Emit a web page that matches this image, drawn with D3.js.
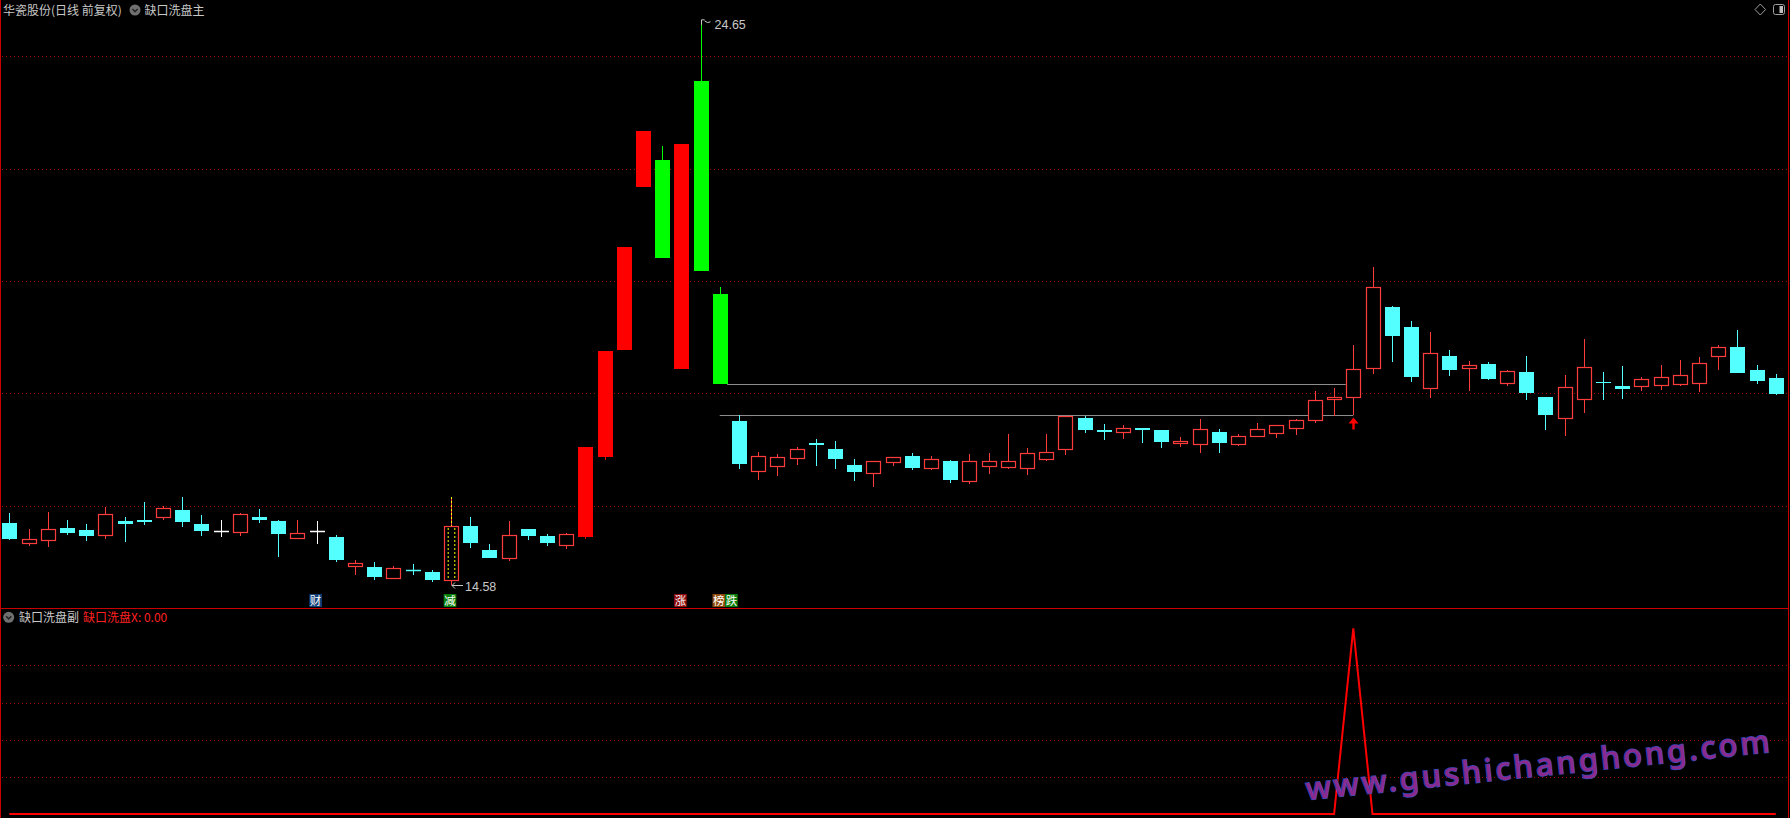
<!DOCTYPE html>
<html><head><meta charset="utf-8">
<script src="https://cdn.jsdelivr.net/npm/d3@7"></script>
<style>html,body{margin:0;padding:0;background:#000;overflow:hidden}svg{display:block}</style>
</head><body>
<svg id="c" width="1790" height="818"></svg>
<script>
// ---------- data ----------
const opens  = [15.69,15.34,15.39,15.60,15.56,15.48,15.72,15.74,15.80,15.92,15.67,15.54,15.52,15.80,15.72,15.43,15.54,15.44,14.93,14.90,14.71,14.86,14.82,14.67,15.64,15.21,15.07,15.58,15.46,15.30,
15.44,16.86,18.77,21.67,22.15,18.43,23.56,19.77,17.50,16.62,16.70,16.85,17.11,17.01,16.72,16.58,16.77,16.88,16.67,16.79,16.44,16.70,16.69,16.67,16.83,17.01,17.56,17.34,17.31,17.38,
17.34,17.11,17.10,17.31,17.10,17.24,17.30,17.38,17.52,17.89,17.94,18.44,19.53,19.18,18.10,18.66,18.44,18.52,18.19,18.38,17.93,17.56,17.89,18.20,18.12,18.13,18.15,18.17,18.19,18.67,
18.82,18.41,18.27];
const highs  = [15.87,15.58,15.88,15.74,15.67,15.97,15.80,16.06,16.00,16.15,15.83,15.74,15.87,15.94,15.74,15.74,15.72,15.47,15.03,14.99,14.92,14.96,14.85,16.15,15.80,15.31,15.72,15.58,15.49,15.51,
17.04,18.75,20.60,22.67,22.40,22.44,24.65,19.89,17.61,16.95,16.92,17.04,17.18,17.15,16.83,16.79,16.86,16.93,16.88,16.81,16.92,16.93,17.27,17.02,17.27,17.59,17.59,17.45,17.43,17.38,
17.34,17.22,17.54,17.36,17.27,17.47,17.43,17.54,18.04,18.09,18.86,20.25,19.55,19.29,19.09,18.77,18.57,18.56,18.41,18.66,17.93,18.32,18.97,18.38,18.48,18.29,18.50,18.59,18.64,18.85,
19.13,18.50,18.34];
const lows   = [15.39,15.28,15.26,15.47,15.37,15.40,15.35,15.65,15.74,15.62,15.46,15.44,15.46,15.69,15.08,15.43,15.31,14.99,14.76,14.67,14.71,14.76,14.64,14.58,15.24,15.07,15.01,15.39,15.28,15.23,
15.40,16.81,18.77,21.67,20.40,18.43,20.18,18.17,16.65,16.45,16.53,16.72,16.70,16.65,16.44,16.33,16.70,16.63,16.63,16.40,16.38,16.56,16.65,16.54,16.79,16.90,17.29,17.17,17.18,17.11,
17.02,17.04,16.93,16.93,17.06,17.22,17.20,17.26,17.47,17.60,17.62,18.35,18.56,18.20,17.92,18.31,18.04,18.23,18.13,17.87,17.35,17.23,17.65,17.88,17.90,18.04,18.06,18.13,18.03,18.42,
18.36,18.17,17.97];
const closes = [15.40,15.40,15.59,15.51,15.46,15.85,15.67,15.71,15.96,15.71,15.55,15.54,15.85,15.74,15.50,15.51,15.54,15.03,14.98,14.73,14.89,14.85,14.67,15.64,15.34,15.07,15.48,15.46,15.33,15.49,
17.04,18.75,20.60,22.67,20.40,22.44,20.18,18.17,16.74,16.89,16.86,17.00,17.08,16.83,16.60,16.79,16.86,16.67,16.83,16.45,16.79,16.79,16.79,16.93,16.95,17.59,17.34,17.31,17.38,17.34,
17.13,17.15,17.36,17.11,17.24,17.36,17.43,17.52,17.87,17.94,18.43,19.89,19.01,18.29,18.71,18.41,18.51,18.25,18.39,18.00,17.62,18.11,18.47,18.19,18.08,18.25,18.28,18.32,18.53,18.82,
18.36,18.22,17.99];
// sub-chart series 缺口洗盘X
const signal = [0,0,0,0,0,0,0,0,0,0,0,0,0,0,0,0,0,0,0,0,0,0,0,0,0,0,0,0,0,0,
0,0,0,0,0,0,0,0,0,0,0,0,0,0,0,0,0,0,0,0,0,0,0,0,0,0,0,0,0,0,
0,0,0,0,0,0,0,0,0,0,1,0,0,0,0,0,0,0,0,0,0,0,0,0,0,0,0,0,0,0,
0,0,0];
const priceTicks  = [16, 18, 20, 22, 24];
const signalTicks = [0.2, 0.4, 0.6, 0.8];
const limitBars   = [30, 31, 32, 33, 34, 35, 36, 37];   // bars painted solid by the indicator
const specialBar  = 23;                                  // bar marked with dotted yellow
const gapStart = 37, gapEnd = 70;                        // gap kept open until the signal bar
const eventBars  = [16, 23, 35, 37, 37];
const eventTexts = ["财", "减", "涨", "榜", "跌"];
const eventFills = ["#113f78", "#0b7f0b", "#8e0c0c", "#8e4a0c", "#0b7f0b"];
const titleMain = "华瓷股份(日线 前复权)";
const mainIndicator = "缺口洗盘主";
const subIndicator = "缺口洗盘副";
const subSeriesName = "缺口洗盘X";
const watermark = "www.gushichanghong.com";

// ---------- drawing ----------
const svg = d3.select("#c");
svg.append("rect").attr("width", 1790).attr("height", 818).attr("fill", "#000");
const n = closes.length;
const x  = d3.scaleLinear().domain([0, n - 1]).range([9.3, 1775.7]);
const y  = d3.scaleLinear().domain([16, 24]).range([505.5, 56.3]);
const y2 = d3.scaleLinear().domain([0, 1]).range([814, 628.3]);
const UP = "#ff3c3c", DOWN = "#54ffff", FLAT = "#ffffff";
const GRID = "#a00000", BORDER = "#c80000";

// grids via axes
const gMainGrid = svg.append("g").attr("transform", "translate(2,0)")
  .call(d3.axisRight(y).tickValues(priceTicks).tickSize(1785).tickFormat(""));
const gSubGrid = svg.append("g").attr("transform", "translate(2,0)")
  .call(d3.axisRight(y2).tickValues(signalTicks).tickSize(1785).tickFormat(""));
[gMainGrid, gSubGrid].forEach(g => {
  g.select(".domain").remove();
  g.selectAll(".tick").attr("transform", d => null);
  g.selectAll(".tick line")
    .attr("y1", function(){ return 0; });
});
gMainGrid.selectAll(".tick line").attr("transform", d => `translate(0,${Math.round(y(d)) + 0.5})`);
gSubGrid.selectAll(".tick line").attr("transform", d => `translate(0,${Math.round(y2(d)) + 0.5})`);
svg.selectAll(".tick line").attr("stroke", GRID).attr("stroke-dasharray", "1,3").attr("stroke-width", 1);

// borders
svg.append("line").attr("x1", 0.5).attr("x2", 0.5).attr("y1", 0).attr("y2", 818).attr("stroke", BORDER);
svg.append("line").attr("x1", 1788.5).attr("x2", 1788.5).attr("y1", 0).attr("y2", 818).attr("stroke", BORDER);
svg.append("line").attr("x1", 0).attr("x2", 1789).attr("y1", 608.5).attr("y2", 608.5).attr("stroke", BORDER);

// gap lines
const gapTopY = Math.round(y(lows[gapStart])) + 0.5;
const gapBotY = Math.round(y(highs[gapStart + 1])) + 0.5;
svg.append("line").attr("x1", x(gapStart) + 7.5).attr("x2", x(gapEnd) - 7.5)
  .attr("y1", gapTopY).attr("y2", gapTopY).attr("stroke", "#8c8c8c").attr("stroke-width", 1.2);
svg.append("line").attr("x1", x(gapStart)).attr("x2", x(gapEnd))
  .attr("y1", gapBotY).attr("y2", gapBotY).attr("stroke", "#8c8c8c").attr("stroke-width", 1.2);

// candles
const gC = svg.append("g");
d3.range(n).forEach(i => {
  const o = opens[i], h = highs[i], l = lows[i], c = closes[i];
  const cx = Math.round(x(i)) + 0.5;
  const limit = limitBars.includes(i);
  const up = c > o, flat = c === o;
  const color = limit ? (up ? "#ff0000" : "#00ff00") : (up ? UP : (flat ? FLAT : DOWN));
  const yt = Math.round(y(Math.max(o, c))), yb = Math.round(y(Math.min(o, c)));
  const yh = Math.round(y(h)), yl = Math.round(y(l));
  if (up && !limit) {
    if (yh < yt) gC.append("line").attr("x1", cx).attr("x2", cx).attr("y1", yh).attr("y2", yt).attr("stroke", color);
    if (yl > yb) gC.append("line").attr("x1", cx).attr("x2", cx).attr("y1", yb).attr("y2", yl).attr("stroke", color);
    gC.append("rect").attr("x", cx - 7).attr("y", yt + 0.5).attr("width", 14).attr("height", Math.max(yb - yt, 1))
      .attr("fill", "#000").attr("stroke", color).attr("stroke-width", 1.2);
  } else {
    if (yl > yh) gC.append("line").attr("x1", cx).attr("x2", cx).attr("y1", yh).attr("y2", yl).attr("stroke", color);
    if (flat || yb - yt < 1) {
      gC.append("line").attr("x1", cx - 7.5).attr("x2", cx + 7.5).attr("y1", yt + 0.5).attr("y2", yt + 0.5)
        .attr("stroke", color).attr("stroke-width", 1.5);
    } else {
      gC.append("rect").attr("x", cx - 7.5).attr("y", yt).attr("width", 15).attr("height", yb - yt).attr("fill", color);
    }
  }
  if (i === specialBar) {
    [-3.3, 3.3].forEach(dx => gC.append("line").attr("x1", cx + dx).attr("x2", cx + dx).attr("y1", yt + 2).attr("y2", yb - 1)
      .attr("stroke", "#ffff00").attr("stroke-dasharray", "2,2"));
    gC.append("line").attr("x1", cx).attr("x2", cx).attr("y1", yh).attr("y2", yt)
      .attr("stroke", "#ffff00").attr("stroke-dasharray", "2,2");
  }
});

// signal arrow under gap end bar
{
  const ax = Math.round(x(gapEnd)) + 0.5, ay = Math.round(y(lows[gapEnd])) + 2.5;
  svg.append("path").attr("d", `M${ax},${ay} L${ax + 5},${ay + 6} L${ax + 1.2},${ay + 6} L${ax + 1.2},${ay + 12} L${ax - 1.2},${ay + 12} L${ax - 1.2},${ay + 6} L${ax - 5},${ay + 6} Z`)
    .attr("fill", "#ff0000");
}

// extreme markers
const fmt = d3.format(".2f");
{
  const hi = d3.maxIndex(highs), lo = d3.minIndex(lows);
  const hx = Math.round(x(hi)) + 0.5, hy = y(highs[hi]);
  svg.append("path").attr("d", `M${hx},${hy + 5} L${hx},${hy} L${hx + 3},${hy} M${hx + 3},${hy + 1} Q${hx + 6},${hy + 4} ${hx + 9},${hy + 2}`)
    .attr("stroke", "#c8c8c8").attr("fill", "none").attr("stroke-width", 1);
  svg.append("text").attr("x", hx + 13).attr("y", hy + 9.5).text(fmt(highs[hi]))
    .attr("fill", "#c8c8c8").attr("font-family", "Liberation Sans, Arial, sans-serif").attr("font-size", 12.5);
  const lx = Math.round(x(lo)) + 1, ly = Math.round(y(lows[lo])) + 0.5;
  svg.append("path").attr("d", `M${lx},${ly} L${lx + 11},${ly} M${lx},${ly} L${lx + 3},${ly - 3} M${lx},${ly} L${lx + 3},${ly + 3}`)
    .attr("stroke", "#c8c8c8").attr("fill", "none");
  svg.append("text").attr("x", lx + 13).attr("y", ly + 5).text(fmt(lows[lo]))
    .attr("fill", "#c8c8c8").attr("font-family", "Liberation Sans, Arial, sans-serif").attr("font-size", 12.5);
}

// event labels
{
  const seen = {};
  eventBars.forEach((b, k) => {
    const slot = seen[b] || 0; seen[b] = slot + 1;
    const bx = x(b) - 7.2 + slot * 12.6;
    svg.append("rect").attr("x", bx).attr("y", 594).attr("width", 12.6).attr("height", 13).attr("fill", eventFills[k]);
    svg.append("text").attr("x", bx + 6.3).attr("y", 605).attr("text-anchor", "middle").text(eventTexts[k])
      .attr("fill", "#ffffff").attr("font-family", "Noto Sans CJK SC").attr("font-size", 11.5);
  });
}

// sub-chart line
svg.append("path").datum(signal)
  .attr("d", d3.line().x((d, i) => x(i)).y(d => y2(d)))
  .attr("fill", "none").attr("stroke", "#ff0000").attr("stroke-width", 2).attr("stroke-linejoin", "miter");

// watermark
svg.append("text").attr("transform", "translate(1307,800) rotate(-5.9)")
  .attr("font-family", "Noto Sans, sans-serif").attr("font-size", 31).attr("font-weight", 500)
  .attr("textLength", 466).attr("lengthAdjust", "spacing")
  .attr("fill", "#8a2a8e").attr("stroke", "#3c46b4").attr("stroke-width", 1.6).attr("paint-order", "stroke")
  .text(watermark);

// titles
function circleIcon(cx, cy) {
  svg.append("circle").attr("cx", cx).attr("cy", cy).attr("r", 5.5).attr("fill", "#707070");
  svg.append("path").attr("d", `M${cx - 2.6},${cy - 1} L${cx},${cy + 1.6} L${cx + 2.6},${cy - 1}`)
    .attr("stroke", "#262626").attr("stroke-width", 1.6).attr("fill", "none");
}
const FONT = "Noto Sans CJK SC";
svg.append("text").attr("x", 3).attr("y", 14.5).text(titleMain).attr("fill", "#c8c8c8").attr("font-family", FONT).attr("font-size", 12);
circleIcon(135, 10);
svg.append("text").attr("x", 144.5).attr("y", 14.5).text(mainIndicator).attr("fill", "#c8c8c8").attr("font-family", FONT).attr("font-size", 12);
circleIcon(8.7, 617.3);
svg.append("text").attr("x", 19).attr("y", 621.8).text(subIndicator).attr("fill", "#c8c8c8").attr("font-family", FONT).attr("font-size", 12);
svg.append("text").attr("x", 83).attr("y", 621.8).text(`${subSeriesName}: ${fmt(signal[n - 1])}`).attr("fill", "#ff2020").attr("font-family", FONT).attr("font-size", 12);

// top-right icons
svg.append("path").attr("d", "M1760.3,4 L1765.6,9.5 L1760.3,15 L1755,9.5 Z").attr("fill", "none").attr("stroke", "#a0a0a0");
svg.append("rect").attr("x", 1773.5).attr("y", 4.5).attr("width", 11).attr("height", 10).attr("rx", 2).attr("fill", "none").attr("stroke", "#a0a0a0");
svg.append("rect").attr("x", 1779.5).attr("y", 6).attr("width", 3.5).attr("height", 7).attr("fill", "#c0c0c0");
</script>
</body></html>
